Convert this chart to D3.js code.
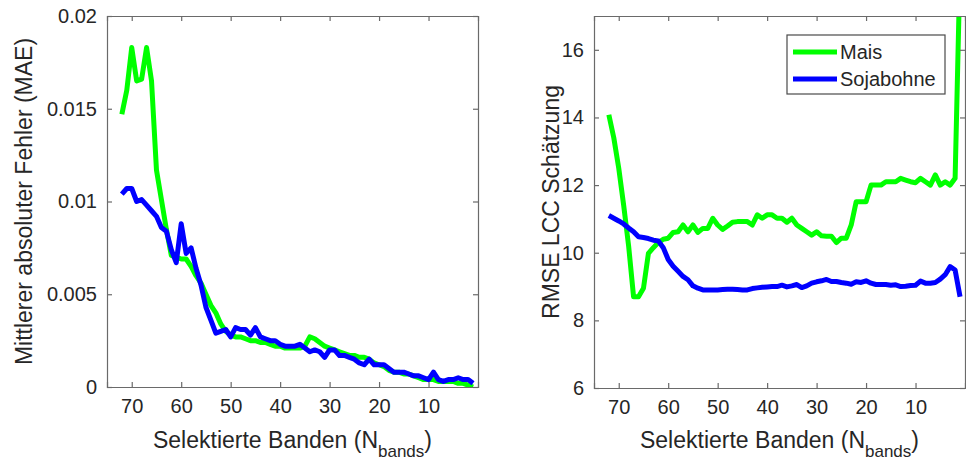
<!DOCTYPE html>
<html>
<head>
<meta charset="utf-8">
<script src="https://cdn.jsdelivr.net/npm/d3@7"></script>
<style>
  body { margin: 0; background: #fff; }
  svg { display: block; font-family: Arial, "Liberation Sans", sans-serif; }
</style>
</head>
<body>
<svg id="chart" width="966" height="461"></svg>
<script>
// Number of selected bands, 72 down to 1
const bands = d3.range(72, 0, -1);

// Left panel: mean absolute error (MAE)
const maeMais = [
  0.0147, 0.0160, 0.0183, 0.0165, 0.0166, 0.0183, 0.0165, 0.0117, 0.0101, 0.0085,
  0.0071, 0.0070, 0.0069, 0.0069, 0.0065, 0.0060, 0.0056, 0.0050, 0.0044, 0.0040,
  0.0034, 0.0030, 0.0028, 0.0027, 0.0027, 0.0026, 0.0025, 0.0025, 0.0024, 0.0024,
  0.0023, 0.0022, 0.0022, 0.0021, 0.0021, 0.0021, 0.0021, 0.0022, 0.0027, 0.0026,
  0.0024, 0.0022, 0.0021, 0.0020, 0.0019, 0.0018, 0.0017, 0.0017, 0.0016, 0.0016,
  0.0015, 0.0013, 0.0012, 0.0011, 0.0009, 0.0008, 0.0008, 0.0007, 0.0007, 0.0006,
  0.0005, 0.0004, 0.0004, 0.0004, 0.0003, 0.0003, 0.0003, 0.0003, 0.0002, 0.0002,
  0.0001, 0.0000
];
const maeSoja = [
  0.0104, 0.0107, 0.0107, 0.0100, 0.0101, 0.0098, 0.0095, 0.0092, 0.0086, 0.0084,
  0.0074, 0.0067, 0.0088, 0.0072, 0.0075, 0.0064, 0.0055, 0.0043, 0.0036, 0.0029,
  0.0030, 0.0031, 0.0027, 0.0032, 0.0031, 0.0031, 0.0028, 0.0032, 0.0027, 0.0026,
  0.0025, 0.0025, 0.0023, 0.0022, 0.0022, 0.0022, 0.0023, 0.0021, 0.0019, 0.0020,
  0.0019, 0.0016, 0.0020, 0.0020, 0.0017, 0.0017, 0.0016, 0.0015, 0.0013, 0.0012,
  0.0015, 0.0012, 0.0012, 0.0012, 0.0010, 0.0008, 0.0008, 0.0008, 0.0007, 0.0006,
  0.0006, 0.0005, 0.0004, 0.0008, 0.0004, 0.0003, 0.0004, 0.0004, 0.0005, 0.0004,
  0.0004, 0.0002
];

// Right panel: RMSE of the LCC estimate
const rmseMais = [
  14.08, 13.4, 12.5, 11.4, 10.2, 8.7, 8.7, 8.95, 9.98, 10.15,
  10.3, 10.4, 10.43, 10.6, 10.62, 10.82, 10.62, 10.82, 10.6, 10.72,
  10.72, 11.02, 10.82, 10.69, 10.79, 10.9, 10.92, 10.92, 10.92, 10.82,
  11.12, 11.02, 11.12, 11.12, 11.02, 11.02, 10.9, 11.02, 10.82, 10.72,
  10.62, 10.52, 10.62, 10.5, 10.49, 10.49, 10.3, 10.43, 10.43, 10.82,
  11.51, 11.51, 11.51, 12.0, 12.0, 12.0, 12.1, 12.1, 12.1, 12.2,
  12.15, 12.1, 12.07, 12.2, 12.1, 12.0, 12.3, 12.0, 12.1, 12.0,
  12.2, 18.5
];
const rmseSoja = [
  11.1, 11.02, 10.94, 10.85, 10.73, 10.62, 10.47, 10.45, 10.42, 10.37,
  10.35, 10.15, 9.8, 9.6, 9.45, 9.3, 9.2, 9.02, 8.95, 8.9,
  8.9, 8.9, 8.9, 8.91, 8.92, 8.92, 8.91, 8.9, 8.9, 8.94,
  8.96, 8.98, 8.99, 9.0, 9.0, 9.04, 8.99, 9.02, 9.06, 8.97,
  9.02, 9.1, 9.14, 9.17, 9.21, 9.15, 9.15, 9.12, 9.1, 9.07,
  9.14, 9.12, 9.17, 9.1, 9.06, 9.06, 9.06, 9.04, 9.05, 9.0,
  9.01, 9.03, 9.04, 9.16, 9.1, 9.1, 9.12, 9.22, 9.35, 9.59,
  9.49, 8.7
];

const xTicks = [70, 60, 50, 40, 30, 20, 10];
const maeTicks = [0, 0.005, 0.01, 0.015, 0.02];
const maeTickLabels = ["0", "0.005", "0.01", "0.015", "0.02"];
const rmseTicks = [6, 8, 10, 12, 14, 16];
const seriesNames = ["Mais", "Sojabohne"];
const colors = ["#00ff00", "#0000ff"];

const svg = d3.select("#chart");
const axisColor = "#6a6a6a";
const textColor = "#262626";

function drawPanel(opts) {
  const { left, right, top, bottom, yDomain, yTicks, yFormat, series, yLabel, id } = opts;

  const x = d3.scaleLinear().domain([75, 0]).range([left, right]);
  const y = d3.scaleLinear().domain(yDomain).range([bottom, top]);

  const g = svg.append("g");

  g.append("clipPath").attr("id", id)
    .append("rect")
    .attr("x", left).attr("y", top)
    .attr("width", right - left).attr("height", bottom - top);

  const line = d3.line()
    .x((d, i) => x(bands[i]))
    .y(d => y(d));

  // Mais first, Sojabohne drawn on top
  series.forEach((vals, i) => {
    g.append("path")
      .datum(vals)
      .attr("clip-path", `url(#${id})`)
      .attr("fill", "none")
      .attr("stroke", colors[i])
      .attr("stroke-width", 5)
      .attr("stroke-linejoin", "round")
      .attr("d", line);
  });

  // box with inward ticks on all sides (matlab style)
  const axB = g.append("g").attr("transform", `translate(0,${bottom})`)
    .call(d3.axisBottom(x).tickValues(xTicks).tickSize(-5).tickPadding(12));
  const axT = g.append("g").attr("transform", `translate(0,${top})`)
    .call(d3.axisTop(x).tickValues(xTicks).tickSize(-5).tickFormat(""));
  const axL = g.append("g").attr("transform", `translate(${left},0)`)
    .call(d3.axisLeft(y).tickValues(yTicks).tickSize(-5).tickPadding(10).tickFormat(yFormat));
  const axR = g.append("g").attr("transform", `translate(${right},0)`)
    .call(d3.axisRight(y).tickValues(yTicks).tickSize(-5).tickFormat(""));

  [axB, axT, axL, axR].forEach(a => {
    a.select(".domain").attr("stroke", axisColor).attr("stroke-width", 1.2);
    a.selectAll(".tick line").attr("stroke", axisColor).attr("stroke-width", 1.2);
    a.selectAll("text")
      .attr("fill", textColor)
      .style("font-family", "Arial, 'Liberation Sans', sans-serif")
      .style("font-size", "20px");
  });

  // x label with subscript
  const xl = g.append("text")
    .attr("x", (left + right) / 2)
    .attr("y", 448)
    .attr("text-anchor", "middle")
    .attr("fill", textColor)
    .style("font-size", "23px");
  xl.append("tspan").text("Selektierte Banden (N");
  xl.append("tspan").attr("dy", 9).style("font-size", "17px").text("bands");
  xl.append("tspan").attr("dy", -9).text(")");

  g.append("text")
    .attr("transform", `translate(${opts.yLabelX},${(top + bottom) / 2}) rotate(-90)`)
    .attr("text-anchor", "middle")
    .attr("fill", textColor)
    .style("font-size", "23px")
    .text(yLabel);
}

drawPanel({
  id: "clipL", left: 107, right: 478, top: 16, bottom: 387,
  yDomain: [0, 0.02], yTicks: maeTicks,
  yFormat: (d, i) => maeTickLabels[i],
  series: [maeMais, maeSoja],
  yLabel: "Mittlerer absoluter Fehler (MAE)", yLabelX: 32
});

drawPanel({
  id: "clipR", left: 594, right: 965, top: 16, bottom: 388,
  yDomain: [6, 17], yTicks: rmseTicks,
  yFormat: d3.format("d"),
  series: [rmseMais, rmseSoja],
  yLabel: "RMSE LCC Schätzung", yLabelX: 559
});

// legend
const legend = svg.append("g").attr("transform", "translate(787,35)");
legend.append("rect")
  .attr("width", 158).attr("height", 59)
  .attr("fill", "#fff")
  .attr("stroke", "#4a4a4a")
  .attr("stroke-width", 1.2);
seriesNames.forEach((name, i) => {
  legend.append("line")
    .attr("x1", 6).attr("x2", 50)
    .attr("y1", 17 + i * 27).attr("y2", 17 + i * 27)
    .attr("stroke", colors[i])
    .attr("stroke-width", 5);
  legend.append("text")
    .attr("x", 53)
    .attr("y", 17 + i * 27 + 7)
    .attr("fill", textColor)
    .style("font-size", "20px")
    .text(name);
});
</script>
</body>
</html>
